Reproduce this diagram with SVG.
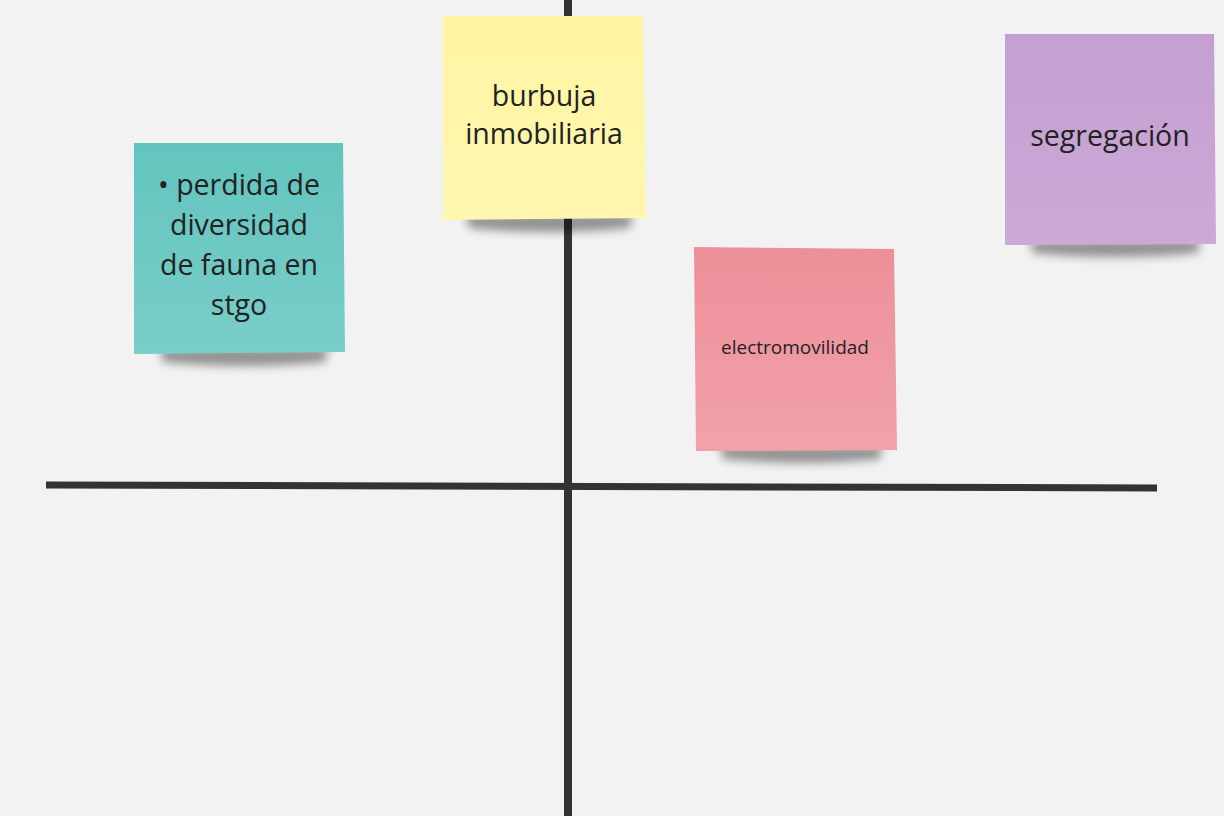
<svg xmlns="http://www.w3.org/2000/svg" width="1224" height="816" viewBox="0 0 1224 816">
<defs>
<filter id="sh" x="-20%" y="-100%" width="140%" height="300%"><feGaussianBlur stdDeviation="5"/></filter>
<linearGradient id="gT" x1="0" y1="0" x2="0" y2="1"><stop offset="0" stop-color="#62c5be"/><stop offset="1" stop-color="#7acdc8"/></linearGradient>
<linearGradient id="gY" x1="0" y1="0" x2="0" y2="1"><stop offset="0" stop-color="#fff5a3"/><stop offset="1" stop-color="#fff7b0"/></linearGradient>
<linearGradient id="gP" x1="0" y1="0" x2="0" y2="1"><stop offset="0" stop-color="#ed8f99"/><stop offset="1" stop-color="#f2a1aa"/></linearGradient>
<linearGradient id="gV" x1="0" y1="0" x2="0" y2="1"><stop offset="0" stop-color="#c49fd1"/><stop offset="1" stop-color="#cca9d7"/></linearGradient>
</defs>
<style>
.t{font-family:"Open Sans","Noto Sans","Liberation Sans",sans-serif;fill:#222;text-anchor:middle}
.big{font-size:28.5px}
.sm{font-size:19px}
.shadow{fill:#000;opacity:0.4;filter:url(#sh)}
.ax{stroke:#333;fill:none}
</style>
<rect width="1224" height="816" fill="#f2f2f2"/>
<g id="axes">
<line class="ax" x1="568" y1="0" x2="568" y2="816" stroke-width="8"/>
<line class="ax" x1="46" y1="485" x2="1157" y2="488" stroke-width="7"/>
</g>
<g id="note-fauna">
<path class="shadow" d="M160,348 L328,348 L325,362 Q244,370 163,362 Z"/>
<polygon points="134,143 343,143 345,352 134,354" fill="url(#gT)"/>
<text class="t big" x="239" y="195">• perdida de</text>
<text class="t big" x="239" y="235">diversidad</text>
<text class="t big" x="239" y="275">de fauna en</text>
<text class="t big" x="239" y="315">stgo</text>
</g>
<g id="note-burbuja">
<path class="shadow" d="M466,214 L632,214 L630,228 Q548,236 469,228 Z"/>
<polygon points="443,16 643,16 646,218 443,220" fill="url(#gY)"/>
<text class="t big" x="544" y="106">burbuja</text>
<text class="t big" x="544" y="144">inmobiliaria</text>
</g>
<g id="note-electro">
<path class="shadow" d="M720,446 L882,446 L880,459 Q800,467 723,459 Z"/>
<polygon points="694,247 894,249 897,450 696,451" fill="url(#gP)"/>
<text class="t sm" x="795" y="354">electromovilidad</text>
</g>
<g id="note-segregacion">
<path class="shadow" d="M1030,240 L1200,240 L1198,253 Q1115,261 1033,253 Z"/>
<polygon points="1005,34 1214,34 1216,244 1005,245" fill="url(#gV)"/>
<text class="t big" x="1110" y="146">segregación</text>
</g>
<g id="connectors"></g>
</svg>
